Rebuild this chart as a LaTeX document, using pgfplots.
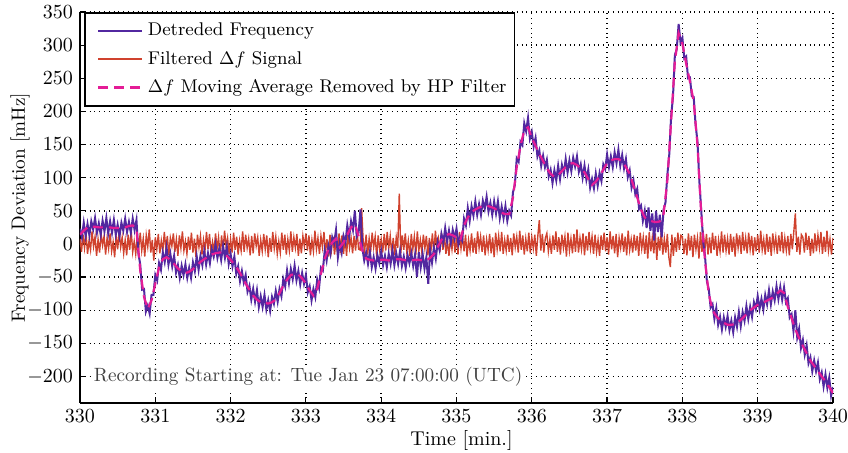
\documentclass[border=0pt]{standalone}
\usepackage{pgfplots}
\usepackage{pgfplotstable}
\pgfplotsset{compat=1.18}

\definecolor{detblue}{RGB}{82,40,160}
\definecolor{filtred}{RGB}{208,66,46}
\definecolor{mamag}{RGB}{228,28,150}

% t [min], detrended frequency [mHz]
\pgfplotstableread{
t det
330.000 23
330.025 10
330.050 32
330.075 12
330.100 30
330.125 13
330.150 34
330.175 22
330.200 39
330.225 17
330.250 31
330.275 14
330.300 35
330.325 19
330.350 39
330.375 16
330.400 34
330.425 17
330.450 36
330.475 14
330.500 29
330.525 12
330.550 32
330.575 20
330.600 38
330.625 18
330.650 33
330.675 17
330.700 38
330.725 21
330.750 36
330.775 -14
330.800 -31
330.825 -69
330.850 -68
330.875 -102
330.900 -93
330.925 -105
330.950 -77
330.975 -77
331.000 -47
331.025 -55
331.050 -29
331.075 -39
331.100 -13
331.125 -27
331.150 -6
331.175 -31
331.200 -15
331.225 -34
331.250 -18
331.275 -43
331.300 -32
331.325 -51
331.350 -33
331.375 -47
331.400 -31
331.425 -51
331.450 -36
331.475 -51
331.500 -28
331.525 -41
331.550 -19
331.575 -39
331.600 -18
331.625 -32
331.650 -11
331.675 -31
331.700 -14
331.725 -29
331.750 -8
331.775 -19
331.800 -1
331.825 -21
331.850 -7
331.875 -24
331.900 -3
331.925 -21
331.950 -4
331.975 -30
332.000 -15
332.025 -34
332.050 -19
332.075 -45
332.100 -34
332.125 -56
332.150 -41
332.175 -58
332.200 -47
332.225 -72
332.250 -63
332.275 -84
332.300 -68
332.325 -87
332.350 -70
332.375 -95
332.400 -79
332.425 -95
332.450 -77
332.475 -99
332.500 -85
332.525 -101
332.550 -80
332.575 -90
332.600 -71
332.625 -87
332.650 -68
332.675 -79
332.700 -53
332.725 -64
332.750 -40
332.775 -59
332.800 -38
332.825 -53
332.850 -33
332.875 -55
332.900 -41
332.925 -61
332.950 -44
332.975 -60
333.000 -47
333.025 -73
333.050 -64
333.075 -85
333.100 -68
333.125 -80
333.150 -54
333.175 -66
333.200 -36
333.225 -40
333.250 -10
333.275 -25
333.300 -3
333.325 -15
333.350 10
333.375 1
333.400 21
333.425 -20
333.450 1
333.475 -13
333.500 12
333.525 2
333.550 28
333.575 11
333.600 34
333.625 21
333.650 50
333.675 11
333.700 17
333.725 52
333.750 -6
333.775 -25
333.800 -13
333.825 -30
333.850 -12
333.875 -35
333.900 -20
333.925 -37
333.950 -17
333.975 -29
334.000 -11
334.025 -32
334.050 -18
334.075 -35
334.100 -15
334.125 -30
334.150 -10
334.175 -32
334.200 -14
334.225 -30
334.250 -11
334.275 -33
334.300 -19
334.325 -36
334.350 -17
334.375 -29
334.400 -14
334.425 -33
334.450 -16
334.475 -50
334.500 -12
334.525 -35
334.550 -15
334.575 -37
334.600 -20
334.625 -60
334.650 -9
334.675 -28
334.700 -6
334.725 -22
334.750 3
334.775 -9
334.800 15
334.825 2
334.850 24
334.875 4
334.900 20
334.925 2
334.950 21
334.975 8
335.000 23
335.025 0
335.050 11
335.075 5
335.100 38
335.125 28
335.150 54
335.175 35
335.200 57
335.225 43
335.250 64
335.275 44
335.300 60
335.325 44
335.350 65
335.375 53
335.400 71
335.425 49
335.450 62
335.475 44
335.500 64
335.525 46
335.550 64
335.575 39
335.600 56
335.625 39
335.650 57
335.675 35
335.700 50
335.725 43
335.750 78
335.775 89
335.800 129
335.825 124
335.850 154
335.875 149
335.900 182
335.925 170
335.950 190
335.975 159
336.000 169
336.025 147
336.050 160
336.075 132
336.100 141
336.125 118
336.150 133
336.175 116
336.200 127
336.225 102
336.250 112
336.275 92
336.300 111
336.325 96
336.350 118
336.375 98
336.400 119
336.425 106
336.450 128
336.475 108
336.500 126
336.525 110
336.550 130
336.575 117
336.600 132
336.625 109
336.650 120
336.675 100
336.700 118
336.725 97
336.750 112
336.775 85
336.800 98
336.825 84
336.850 106
336.875 88
336.900 107
336.925 95
336.950 120
336.975 113
337.000 135
337.025 116
337.050 132
337.075 116
337.100 138
337.125 122
337.150 142
337.175 118
337.200 134
337.225 114
337.250 128
337.275 101
337.300 111
337.325 85
337.350 96
337.375 75
337.400 83
337.425 53
337.450 58
337.475 35
337.500 50
337.525 24
337.550 55
337.575 20
337.600 46
337.625 5
337.650 50
337.675 18
337.700 44
337.725 10
337.750 52
337.775 62
337.800 104
337.825 134
337.850 192
337.875 222
337.900 285
337.925 294
337.950 332
337.975 304
338.000 311
338.025 280
338.050 283
338.075 250
338.100 251
338.125 223
338.150 222
338.175 180
338.200 155
338.225 95
338.250 51
338.275 4
338.300 -18
338.325 -56
338.350 -68
338.375 -96
338.400 -91
338.425 -113
338.450 -97
338.475 -122
338.500 -110
338.525 -129
338.550 -111
338.575 -125
338.600 -109
338.625 -130
338.650 -116
338.675 -133
338.700 -111
338.725 -125
338.750 -103
338.775 -124
338.800 -103
338.825 -116
338.850 -94
338.875 -113
338.900 -95
338.925 -110
338.950 -88
338.975 -98
339.000 -79
339.025 -98
339.050 -83
339.075 -99
339.100 -77
339.125 -91
339.150 -70
339.175 -91
339.200 -72
339.225 -85
339.250 -64
339.275 -83
339.300 -65
339.325 -84
339.350 -66
339.375 -88
339.400 -82
339.425 -111
339.450 -106
339.475 -131
339.500 -100
339.525 -141
339.550 -128
339.575 -157
339.600 -145
339.625 -167
339.650 -153
339.675 -180
339.700 -171
339.725 -192
339.750 -176
339.775 -192
339.800 -179
339.825 -204
339.850 -194
339.875 -215
339.900 -197
339.925 -217
339.950 -202
339.975 -229
340.000 -216
}\freqdata

% moving average removed by the high-pass filter [mHz]
\pgfplotstableread{
t ma
330.00 14
330.05 20
330.10 25
330.15 26
330.20 26
330.25 25
330.30 25
330.35 25
330.40 25
330.45 24
330.50 24
330.55 24
330.60 25
330.65 27
330.70 28
330.75 22
330.80 -40
330.85 -80
330.90 -98
330.95 -85
331.00 -60
331.05 -35
331.10 -23
331.15 -20
331.20 -24
331.25 -30
331.30 -37
331.35 -41
331.40 -44
331.45 -42
331.50 -38
331.55 -33
331.60 -27
331.65 -23
331.70 -19
331.75 -16
331.80 -14
331.85 -13
331.90 -13
331.95 -18
332.00 -24
332.05 -31
332.10 -39
332.15 -49
332.20 -60
332.25 -69
332.30 -78
332.35 -84
332.40 -88
332.45 -89
332.50 -90
332.55 -88
332.60 -84
332.65 -74
332.70 -63
332.75 -54
332.80 -47
332.85 -45
332.90 -46
332.95 -52
333.00 -60
333.05 -70
333.10 -78
333.15 -68
333.20 -45
333.25 -22
333.30 -8
333.35 2
333.40 8
333.45 -5
333.50 2
333.55 14
333.60 25
333.65 30
333.70 12
333.75 -10
333.80 -22
333.85 -24
333.90 -25
333.95 -25
334.00 -24
334.05 -24
334.10 -25
334.15 -24
334.20 -23
334.25 -23
334.30 -24
334.35 -25
334.40 -25
334.45 -24
334.50 -24
334.55 -25
334.60 -25
334.65 -21
334.70 -15
334.75 -5
334.80 6
334.85 12
334.90 15
334.95 13
335.00 10
335.05 5
335.10 28
335.15 40
335.20 48
335.25 52
335.30 55
335.35 57
335.40 58
335.45 56
335.50 54
335.55 50
335.60 47
335.65 45
335.70 45
335.75 70
335.80 116
335.85 148
335.90 172
335.95 176
336.00 160
336.05 148
336.10 136
336.15 125
336.20 114
336.25 106
336.30 101
336.35 104
336.40 110
336.45 116
336.50 121
336.55 122
336.60 119
336.65 114
336.70 108
336.75 98
336.80 89
336.85 94
336.90 102
336.95 112
337.00 122
337.05 126
337.10 128
337.15 128
337.20 125
337.25 116
337.30 106
337.35 88
337.40 70
337.45 52
337.50 40
337.55 36
337.60 34
337.65 33
337.70 34
337.75 45
337.80 95
337.85 185
337.90 275
337.95 318
338.00 302
338.05 272
338.10 245
338.15 215
338.20 150
338.25 45
338.30 -25
338.35 -75
338.40 -100
338.45 -109
338.50 -115
338.55 -119
338.60 -122
338.65 -122
338.70 -121
338.75 -117
338.80 -112
338.85 -106
338.90 -100
338.95 -96
339.00 -92
339.05 -89
339.10 -87
339.15 -84
339.20 -81
339.25 -76
339.30 -70
339.35 -74
339.40 -95
339.45 -112
339.50 -129
339.55 -142
339.60 -154
339.65 -165
339.70 -176
339.75 -184
339.80 -192
339.85 -200
339.90 -207
339.95 -216
340.00 -225
}\madata

\begin{document}
\begin{tikzpicture}
\begin{axis}[
  scale only axis,
  width=376.5pt, height=195.5pt,
  xmin=330, xmax=340, ymin=-240, ymax=350,
  xtick={330,331,...,340},
  ytick={-200,-150,...,350},
  axis lines=left,
  axis line style={-, line width=0.9pt},
  tick align=inside,
  major tick length=3pt,
  tick style={black, line width=0.6pt},
  grid=major,
  major grid style={black, dotted, line width=0.7pt},
  xlabel={Time [min.]},
  ylabel={Frequency Deviation [mHz]},
  xlabel style={yshift=3pt, xshift=2.5pt},
  ylabel style={yshift=-8pt, font=\fontsize{9.6pt}{11pt}\selectfont},
  legend style={at={(rel axis cs:0.005,1.0)}, anchor=north west,
    draw=black, line width=0.9pt, fill=white,
    font=\fontsize{9.2pt}{11pt}\selectfont,
    row sep=2.2pt, inner xsep=2pt, inner ysep=3pt,
    cells={anchor=west}},
  legend cell align=left,
  legend image code/.code={\path (0pt,0pt); \draw[#1] (4pt,0pt) -- (26pt,0pt);},
  clip=true,
]
\addlegendimage{detblue, line width=1pt}
\addlegendentry{Detreded Frequency}
\addlegendimage{filtred, line width=1pt}
\addlegendentry{Filtered $\Delta f$ Signal}
\addlegendimage{mamag, line width=1.6pt, dash pattern=on 5pt off 3pt}
\addlegendentry{$\Delta f$ Moving Average Removed by HP Filter}

% high-pass filtered signal, 0.02 min steps
\addplot[filtred, line width=0.7pt, forget plot] coordinates {
(330.00,8) (330.02,-12) (330.04,14) (330.06,-6) (330.08,17) (330.10,-15) (330.12,5) (330.14,-9) (330.16,19) (330.18,-4)
(330.20,11) (330.22,-18) (330.24,7) (330.26,-13) (330.28,15) (330.30,-2) (330.32,12) (330.34,-16) (330.36,9) (330.38,-7)
(330.40,16) (330.42,-11) (330.44,3) (330.46,-20) (330.48,13) (330.50,-8) (330.52,18) (330.54,-5) (330.56,10) (330.58,-14)
(330.60,6) (330.62,-17) (330.64,14) (330.66,-9) (330.68,20) (330.70,-12) (330.72,4) (330.74,-15) (330.76,11) (330.78,-6)
(330.80,17) (330.82,-10) (330.84,8) (330.86,-19) (330.88,13) (330.90,-4) (330.92,22) (330.94,-13) (330.96,6) (330.98,-25)
(331.00,10) (331.02,-8) (331.04,15) (331.06,-14) (331.08,5) (331.10,-11) (331.12,18) (331.14,-7) (331.16,12) (331.18,-17)
(331.20,9) (331.22,-3) (331.24,16) (331.26,-12) (331.28,7) (331.30,-18) (331.32,13) (331.34,-6) (331.36,19) (331.38,-10)
(331.40,4) (331.42,-15) (331.44,11) (331.46,-9) (331.48,17) (331.50,-13) (331.52,8) (331.54,-20) (331.56,14) (331.58,-5)
(331.60,12) (331.62,-16) (331.64,6) (331.66,-10) (331.68,18) (331.70,-8) (331.72,15) (331.74,-14) (331.76,3) (331.78,-12)
(331.80,16) (331.82,-7) (331.84,10) (331.86,-19) (331.88,13) (331.90,-11) (331.92,20) (331.94,-4) (331.96,9) (331.98,-15)
(332.00,7) (332.02,-13) (332.04,17) (332.06,-9) (332.08,11) (332.10,-16) (332.12,5) (332.14,-10) (332.16,19) (332.18,-12)
(332.20,14) (332.22,-6) (332.24,8) (332.26,-17) (332.28,12) (332.30,-14) (332.32,16) (332.34,-3) (332.36,10) (332.38,-18)
(332.40,6) (332.42,-11) (332.44,15) (332.46,-8) (332.48,13) (332.50,-20) (332.52,9) (332.54,-12) (332.56,18) (332.58,-7)
(332.60,11) (332.62,-15) (332.64,4) (332.66,-13) (332.68,17) (332.70,-9) (332.72,14) (332.74,-16) (332.76,7) (332.78,-10)
(332.80,19) (332.82,-12) (332.84,10) (332.86,-6) (332.88,15) (332.90,-18) (332.92,8) (332.94,-14) (332.96,12) (332.98,-4)
(333.00,16) (333.02,-10) (333.04,13) (333.06,-17) (333.08,6) (333.10,-11) (333.12,20) (333.14,-8) (333.16,9) (333.18,-15)
(333.20,12) (333.22,-5) (333.24,18) (333.26,-13) (333.28,7) (333.30,-19) (333.32,14) (333.34,-9) (333.36,11) (333.38,-16)
(333.40,5) (333.42,-12) (333.44,16) (333.46,-7) (333.48,13) (333.50,-15) (333.52,10) (333.54,-18) (333.56,17) (333.58,-6)
(333.60,9) (333.62,-14) (333.64,12) (333.66,-10) (333.68,19) (333.70,-8) (333.72,-9) (333.74,54) (333.76,6) (333.78,-11)
(333.80,14) (333.82,-16) (333.84,8) (333.86,-12) (333.88,17) (333.90,-5) (333.92,11) (333.94,-19) (333.96,13) (333.98,-9)
(334.00,7) (334.02,-13) (334.04,15) (334.06,-10) (334.08,18) (334.10,-7) (334.12,12) (334.14,-15) (334.16,9) (334.18,-17)
(334.20,10) (334.22,-6) (334.24,76) (334.26,-14) (334.28,13) (334.30,-9) (334.32,16) (334.34,-12) (334.36,5) (334.38,-18)
(334.40,15) (334.42,-8) (334.44,11) (334.46,-16) (334.48,19) (334.50,-10) (334.52,6) (334.54,-13) (334.56,14) (334.58,-7)
(334.60,12) (334.62,-17) (334.64,9) (334.66,-11) (334.68,16) (334.70,-14) (334.72,20) (334.74,-6) (334.76,8) (334.78,-12)
(334.80,17) (334.82,-9) (334.84,13) (334.86,-15) (334.88,5) (334.90,-18) (334.92,11) (334.94,-8) (334.96,15) (334.98,-13)
(335.00,10) (335.02,-16) (335.04,18) (335.06,-7) (335.08,12) (335.10,-11) (335.12,14) (335.14,-19) (335.16,6) (335.18,-10)
(335.20,16) (335.22,-13) (335.24,9) (335.26,-15) (335.28,19) (335.30,-6) (335.32,11) (335.34,-12) (335.36,13) (335.38,-17)
(335.40,7) (335.42,-9) (335.44,15) (335.46,-14) (335.48,10) (335.50,-20) (335.52,17) (335.54,-8) (335.56,12) (335.58,-11)
(335.60,18) (335.62,-15) (335.64,6) (335.66,-10) (335.68,14) (335.70,-12) (335.72,9) (335.74,-17) (335.76,16) (335.78,-5)
(335.80,11) (335.82,-13) (335.84,20) (335.86,-9) (335.88,13) (335.90,-16) (335.92,8) (335.94,-11) (335.96,17) (335.98,-14)
(336.00,10) (336.02,-7) (336.04,14) (336.06,-18) (336.08,12) (336.10,36) (336.12,-10) (336.14,15) (336.16,-13) (336.18,9)
(336.20,16) (336.22,-11) (336.24,7) (336.26,-15) (336.28,13) (336.30,-9) (336.32,19) (336.34,-12) (336.36,10) (336.38,-16)
(336.40,14) (336.42,-6) (336.44,11) (336.46,-19) (336.48,17) (336.50,-10) (336.52,8) (336.54,-14) (336.56,15) (336.58,-12)
(336.60,22) (336.62,-13) (336.64,9) (336.66,-8) (336.68,16) (336.70,-17) (336.72,12) (336.74,-10) (336.76,18) (336.78,-7)
(336.80,11) (336.82,-15) (336.84,14) (336.86,-12) (336.88,6) (336.90,-18) (336.92,13) (336.94,-9) (336.96,17) (336.98,-11)
(337.00,10) (337.02,-16) (337.04,19) (337.06,-8) (337.08,12) (337.10,-14) (337.12,15) (337.14,-20) (337.16,9) (337.18,-6)
(337.20,16) (337.22,-12) (337.24,11) (337.26,-17) (337.28,20) (337.30,-9) (337.32,7) (337.34,-13) (337.36,14) (337.38,-10)
(337.40,12) (337.42,-18) (337.44,17) (337.46,-7) (337.48,10) (337.50,-15) (337.52,13) (337.54,-22) (337.56,18) (337.58,-11)
(337.60,9) (337.62,-14) (337.64,16) (337.66,-24) (337.68,11) (337.70,-10) (337.72,19) (337.74,-16) (337.76,8) (337.78,-13)
(337.80,15) (337.82,-20) (337.84,-35) (337.86,14) (337.88,-18) (337.90,10) (337.92,-12) (337.94,17) (337.96,-9) (337.98,13)
(338.00,11) (338.02,-15) (338.04,8) (338.06,-17) (338.08,16) (338.10,-10) (338.12,12) (338.14,-20) (338.16,14) (338.18,-8)
(338.20,9) (338.22,-22) (338.24,18) (338.26,-12) (338.28,13) (338.30,-7) (338.32,15) (338.34,-16) (338.36,10) (338.38,-14)
(338.40,17) (338.42,-9) (338.44,12) (338.46,-18) (338.48,6) (338.50,-11) (338.52,19) (338.54,-13) (338.56,14) (338.58,-10)
(338.60,8) (338.62,-16) (338.64,15) (338.66,-12) (338.68,11) (338.70,-19) (338.72,16) (338.74,-6) (338.76,13) (338.78,-15)
(338.80,18) (338.82,-10) (338.84,9) (338.86,-14) (338.88,17) (338.90,-8) (338.92,12) (338.94,-17) (338.96,10) (338.98,-11)
(339.00,14) (339.02,-13) (339.04,20) (339.06,-9) (339.08,7) (339.10,-16) (339.12,15) (339.14,-12) (339.16,11) (339.18,-18)
(339.20,16) (339.22,-7) (339.24,10) (339.26,-15) (339.28,13) (339.30,-11) (339.32,18) (339.34,-14) (339.36,9) (339.38,-10)
(339.40,12) (339.42,-17) (339.44,15) (339.46,-8) (339.48,19) (339.50,46) (339.52,-12) (339.54,11) (339.56,-16) (339.58,14)
(339.60,10) (339.62,-13) (339.64,17) (339.66,-9) (339.68,12) (339.70,-18) (339.72,8) (339.74,-14) (339.76,16) (339.78,-11)
(339.80,13) (339.82,-6) (339.84,18) (339.86,-15) (339.88,11) (339.90,-12) (339.92,20) (339.94,-10) (339.96,7) (339.98,-16)
(340.00,9)
};
\addplot[detblue, line width=1pt, forget plot] table[x=t, y=det] {\freqdata};
\addplot[mamag, line width=1.1pt, dash pattern=on 5pt off 3pt, forget plot] table[x=t, y=ma] {\madata};

\node[anchor=west, fill=white, inner sep=1.5pt, text=black!75,
  font=\fontsize{9.6pt}{11pt}\selectfont]
  at (axis cs:330.14,-201) {Recording Starting at: Tue Jan 23 07:00:00 (UTC)};

\coordinate (sw) at (rel axis cs:0,0);
\coordinate (ne) at (rel axis cs:1,1);
\end{axis}
\pgfresetboundingbox
\path ([shift={(-40pt,-25pt)}]sw) rectangle ([shift={(7.5pt,6pt)}]ne);
\end{tikzpicture}
\end{document}
